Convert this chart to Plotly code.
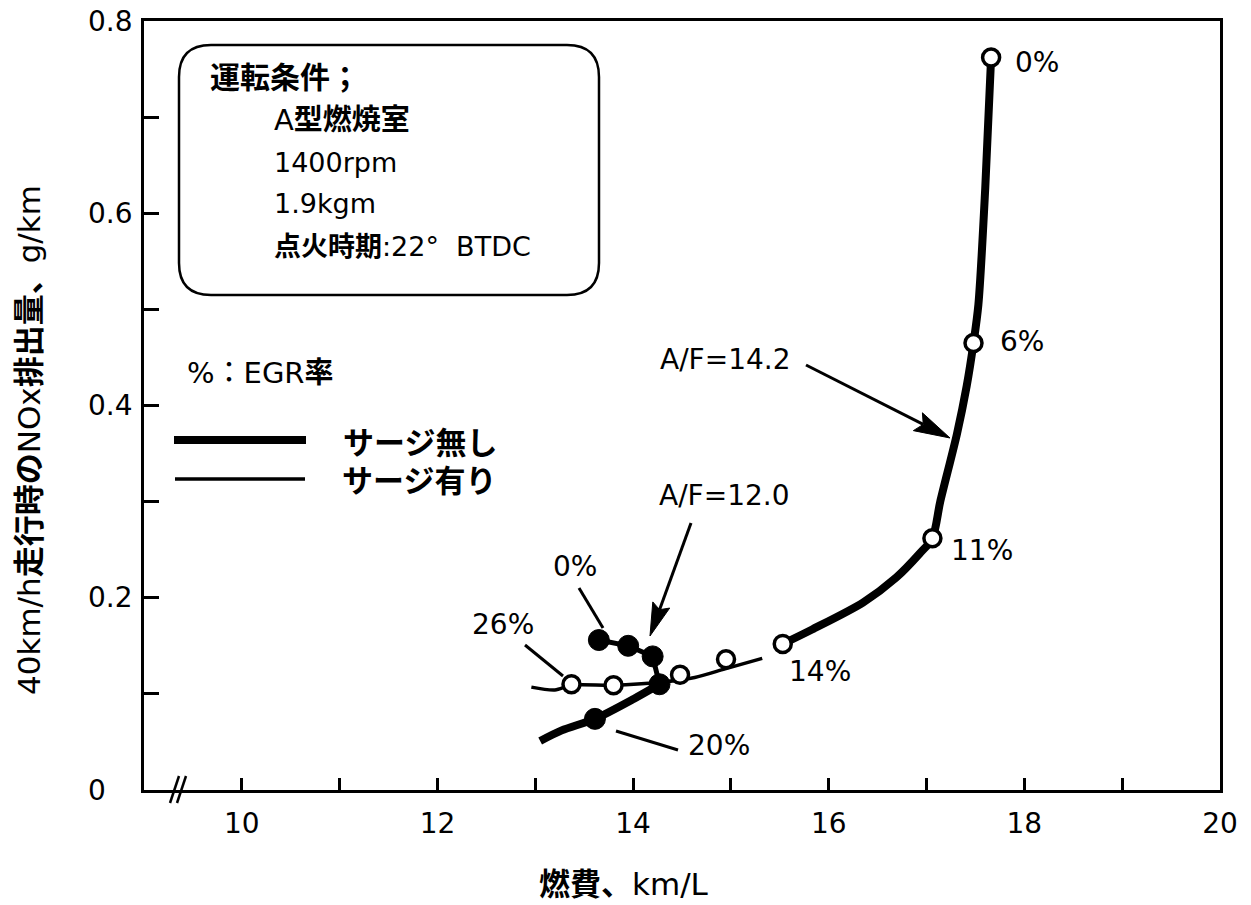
import math
import plotly.graph_objects as go

# ---- data -------------------------------------------------------------
# A/F = 14.2 EGR sweep (open circles)
af142_x = [17.66, 17.48, 17.06, 15.53, 14.95, 14.48, 13.80, 13.37]
af142_y = [0.762, 0.465, 0.262, 0.152, 0.136, 0.120, 0.109, 0.110]
af142_egr = ["0%", "6%", "11%", "14%", "", "", "", "26%"]

# A/F = 12.0 EGR sweep (filled circles), 0% -> 20%
af120_x = [13.65, 13.95, 14.20, 14.27, 13.61]
af120_y = [0.156, 0.150, 0.139, 0.110, 0.074]
af120_egr = ["0%", "", "", "", "20%"]

# no-surge curve of the A/F = 14.2 sweep (thick)
nosurge142_x = [15.53, 15.83, 16.35, 16.69, 16.93, 17.06, 17.14, 17.31, 17.41, 17.48, 17.53, 17.60, 17.66]
nosurge142_y = [0.152, 0.167, 0.195, 0.221, 0.246, 0.262, 0.300, 0.370, 0.420, 0.465, 0.505, 0.626, 0.762]

# surge curve of the A/F = 14.2 sweep (thin)
surge142_x = [12.96, 13.20, 13.37, 13.80, 14.27, 14.63, 14.94, 15.32]
surge142_y = [0.107, 0.104, 0.109, 0.109, 0.112, 0.117, 0.126, 0.137]

# no-surge curve of the A/F = 12.0 sweep, lower branch (thick)
nosurge120_x = [14.27, 14.01, 13.61, 13.27, 13.05]
nosurge120_y = [0.110, 0.095, 0.074, 0.062, 0.051]

x_ticks = [10, 11, 12, 13, 14, 15, 16, 17, 18, 19, 20]
x_ticktext = ["10", "", "12", "", "14", "", "16", "", "18", "", "20"]
y_ticks = [0.1, 0.2, 0.3, 0.4, 0.5, 0.6, 0.7]
y_label_vals = [0.0, 0.2, 0.4, 0.6, 0.8]
y_label_text = ["0", "0.2", "0.4", "0.6", "0.8"]

# ---- page geometry ----------------------------------------------------
W, H = 1251, 905
L, R, T, B = 144, 1220, 21, 790
FONT = "DejaVu Sans, Noto Sans CJK JP, sans-serif"
BLACK = "#000000"


def P(px, py):
    """pixel position on the page -> paper coordinates"""
    return (px - L) / (R - L), (B - py) / (B - T)


def path_str(cmds):
    out = []
    for c in cmds:
        if isinstance(c, str):
            out.append(c)
        else:
            x, y = P(*c)
            out.append(f"{x:.5f},{y:.5f}")
    return " ".join(out)


shapes = []
annotations = []


def line_px(p0, p1, width=3):
    x0, y0 = P(*p0)
    x1, y1 = P(*p1)
    shapes.append(dict(type="line", xref="paper", yref="paper",
                       x0=x0, y0=y0, x1=x1, y1=y1,
                       line=dict(color=BLACK, width=width)))


def arrow_px(tail, tip, head_len=34, half_w=10, notch=6, width=3):
    dx, dy = tip[0] - tail[0], tip[1] - tail[1]
    n = math.hypot(dx, dy)
    ux, uy = dx / n, dy / n
    nx, ny = -uy, ux
    bx, by = tip[0] - head_len * ux, tip[1] - head_len * uy
    p1 = (bx + half_w * nx, by + half_w * ny)
    p2 = (bx - half_w * nx, by - half_w * ny)
    pn = (tip[0] - (head_len - notch) * ux, tip[1] - (head_len - notch) * uy)
    line_px(tail, pn, width)
    shapes.append(dict(type="path", xref="paper", yref="paper",
                       path=path_str(["M", tip, "L", p1, "L", pn, "L", p2, "Z"]),
                       fillcolor=BLACK, line=dict(color=BLACK, width=1)))


def text_px(px, py, text, size=28, anchor="left", angle=0):
    x, y = P(px, py)
    annotations.append(dict(xref="paper", yref="paper", x=x, y=y, text=text,
                            showarrow=False, xanchor=anchor, yanchor="middle",
                            textangle=angle,
                            font=dict(family=FONT, size=size, color=BLACK)))


# ---- traces -----------------------------------------------------------
fig = go.Figure()

fig.add_trace(go.Scatter(x=surge142_x, y=surge142_y, mode="lines",
                         line=dict(color=BLACK, width=3.5, shape="spline", smoothing=0.8),
                         name="サージ有り", hoverinfo="skip"))
fig.add_trace(go.Scatter(x=nosurge142_x, y=nosurge142_y, mode="lines",
                         line=dict(color=BLACK, width=8, shape="spline", smoothing=0.8),
                         name="サージ無し A/F=14.2", hoverinfo="skip"))
fig.add_trace(go.Scatter(x=af120_x[:4], y=af120_y[:4], mode="lines",
                         line=dict(color=BLACK, width=5),
                         name="A/F=12.0", hoverinfo="skip"))
fig.add_trace(go.Scatter(x=nosurge120_x, y=nosurge120_y, mode="lines",
                         line=dict(color=BLACK, width=8, shape="spline", smoothing=0.8),
                         name="サージ無し A/F=12.0", hoverinfo="skip"))
fig.add_trace(go.Scatter(x=af120_x, y=af120_y, mode="markers",
                         marker=dict(size=21, color=BLACK, line=dict(color=BLACK, width=1)),
                         name="A/F=12.0 points"))
fig.add_trace(go.Scatter(x=af142_x, y=af142_y, mode="markers",
                         marker=dict(size=17, color="white", line=dict(color=BLACK, width=3.5)),
                         name="A/F=14.2 points"))

# ---- EGR rate labels, placed next to their points -----------------------
egr_offsets_142 = {"0%": (46, -5), "6%": (48, 2), "11%": (50, -12), "14%": (37, -28), "26%": (-68, 60)}
for x, y, lab in zip(af142_x, af142_y, af142_egr):
    if lab:
        dx, dy = egr_offsets_142[lab]
        annotations.append(dict(x=x, y=y, xref="x", yref="y", text=lab, showarrow=False,
                                xshift=dx, yshift=dy, xanchor="center", yanchor="middle",
                                font=dict(family=FONT, size=28, color=BLACK)))
egr_offsets_120 = {"0%": (-24, 74), "20%": (124, -27)}
for x, y, lab in zip(af120_x, af120_y, af120_egr):
    if lab:
        dx, dy = egr_offsets_120[lab]
        annotations.append(dict(x=x, y=y, xref="x", yref="y", text=lab, showarrow=False,
                                xshift=dx, yshift=dy, xanchor="center", yanchor="middle",
                                font=dict(family=FONT, size=28, color=BLACK)))

# leader lines for the labels
line_px((579, 588), (603, 628))
line_px((525, 645), (563, 676))
line_px((616, 731), (678, 750))

# A/F callouts
text_px(658, 360, "A/F=14.2", size=28)
arrow_px((806, 365), (950, 438), head_len=36, half_w=10, notch=6)
text_px(657, 495, "A/F=12.0", size=28)
arrow_px((691, 523), (650, 636), head_len=33, half_w=9, notch=5)

# ---- operating-condition box -----------------------------------------
bx0, by0, bx1, by1, r = 179, 45, 599, 295, 32
shapes.append(dict(type="path", xref="paper", yref="paper", path=path_str([
    "M", (bx0 + r, by0), "L", (bx1 - r, by0), "Q", (bx1, by0), (bx1, by0 + r),
    "L", (bx1, by1 - r), "Q", (bx1, by1), (bx1 - r, by1),
    "L", (bx0 + r, by1), "Q", (bx0, by1), (bx0, by1 - r),
    "L", (bx0, by0 + r), "Q", (bx0, by0), (bx0 + r, by0), "Z"]),
    line=dict(color=BLACK, width=2.5)))
text_px(208, 78, "<b>運転条件；</b>", size=30)
text_px(272, 120, "A<b>型燃焼室</b>", size=29)
text_px(272, 162, "1400rpm", size=27)
text_px(272, 204, "1.9kgm", size=27)
text_px(272, 246, "<b>点火時期</b>:22° \u00a0BTDC", size=27)

text_px(185, 373, "%：EGR<b>率</b>", size=29)

# ---- line-style key ---------------------------------------------------
line_px((174, 440), (306, 440), width=8)
line_px((175, 479), (305, 479), width=3.5)
text_px(341, 443, "<b>サージ無し</b>", size=31)
text_px(340, 481, "<b>サージ有り</b>", size=31)

# ---- axis break mark on the x axis -------------------------------------
line_px((170, 803), (179, 776), width=2.5)
line_px((177, 803), (186, 776), width=2.5)

# ---- y tick labels (left aligned) and axis titles -----------------------
lx, _ = P(86, 0)
for v, t in zip(y_label_vals, y_label_text):
    annotations.append(dict(x=lx, y=v, xref="paper", yref="y", text=t, showarrow=False,
                            xanchor="left", yanchor="middle",
                            font=dict(family=FONT, size=28, color=BLACK)))

text_px(624, 884, "<b>燃費、</b>km/L", size=31, anchor="center")
text_px(29, 440, "40km/h<b>走行時の</b>NOx<b>排出量、</b>g/km", size=31, anchor="center", angle=-90)

fig.update_layout(
    width=W, height=H,
    margin=dict(l=L, r=W - R, t=T, b=H - B, pad=0),
    paper_bgcolor="white", plot_bgcolor="white",
    showlegend=False,
    shapes=shapes, annotations=annotations,
    font=dict(family=FONT, color=BLACK),
    xaxis=dict(range=[9, 20], showgrid=False, zeroline=False,
               showline=True, mirror=True, linecolor=BLACK, linewidth=2.5,
               ticks="inside", tickvals=x_ticks, ticktext=x_ticktext,
               ticklen=12, tickwidth=2.5, tickcolor=BLACK,
               tickfont=dict(family=FONT, size=28, color=BLACK),
               ticklabelstandoff=7, automargin=False, fixedrange=True),
    yaxis=dict(range=[0, 0.8], showgrid=False, zeroline=False,
               showline=True, mirror=True, linecolor=BLACK, linewidth=2.5,
               ticks="inside", tickvals=y_ticks, showticklabels=False,
               ticklen=15, tickwidth=2.5, tickcolor=BLACK,
               automargin=False, fixedrange=True),
)

fig.write_html("out.html", config={"displayModeBar": False})
